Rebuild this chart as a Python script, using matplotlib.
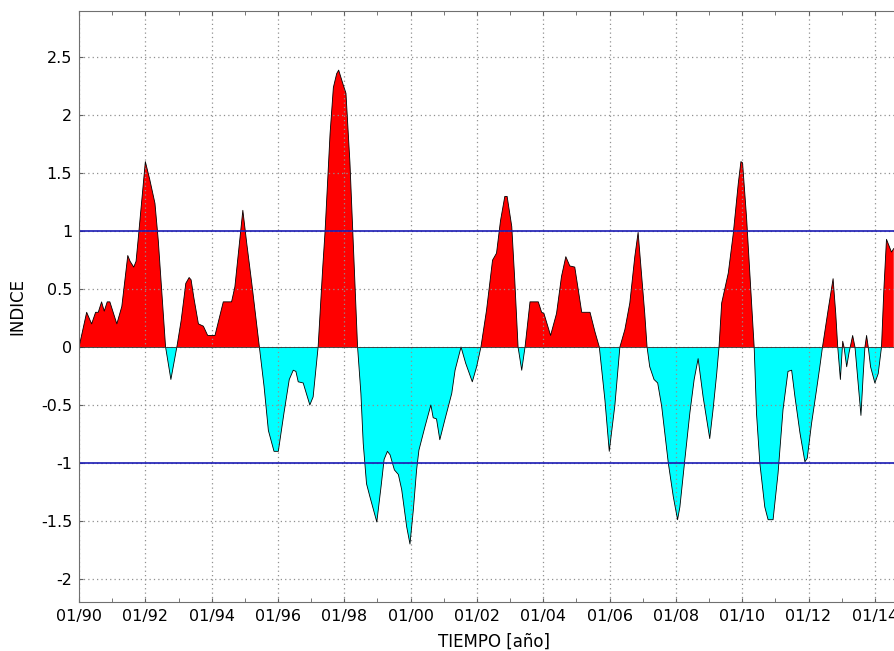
import matplotlib
matplotlib.use("Agg")
import matplotlib.pyplot as plt
import numpy as np

# Serie del indice (tiempo en anos decimales, valor)
tiempo = [
    1990.00, 1990.23, 1990.38, 1990.50, 1990.58, 1990.68, 1990.76, 1990.85, 1990.93,
    1991.14, 1991.29, 1991.47, 1991.54, 1991.65, 1991.72, 1991.79, 1992.00, 1992.13,
    1992.29, 1992.39, 1992.61, 1992.77, 1992.95, 1993.08, 1993.22, 1993.32, 1993.38,
    1993.46, 1993.60, 1993.75, 1993.88, 1994.10, 1994.35, 1994.60, 1994.70, 1994.94,
    1995.06, 1995.21, 1995.44, 1995.58, 1995.71, 1995.88, 1996.01, 1996.18, 1996.34,
    1996.46, 1996.54, 1996.61, 1996.76, 1996.96, 1997.06, 1997.15, 1997.21, 1997.35,
    1997.42, 1997.57, 1997.67, 1997.77, 1997.83, 1997.97, 1998.05, 1998.17, 1998.40,
    1998.50, 1998.57, 1998.62, 1998.67, 1998.77, 1998.98, 1999.11, 1999.20, 1999.30,
    1999.38, 1999.51, 1999.63, 1999.73, 1999.88, 1999.98, 2000.08, 2000.18, 2000.25,
    2000.43, 2000.61, 2000.68, 2000.78, 2000.88, 2001.03, 2001.24, 2001.34, 2001.52,
    2001.66, 2001.86, 2001.99, 2002.12, 2002.29, 2002.47, 2002.59, 2002.71, 2002.84,
    2002.91, 2003.05, 2003.14, 2003.24, 2003.35, 2003.45, 2003.60, 2003.85, 2003.95,
    2004.02, 2004.22, 2004.40, 2004.55, 2004.68, 2004.80, 2004.95, 2005.16, 2005.41,
    2005.56, 2005.69, 2005.86, 2005.99, 2006.16, 2006.31, 2006.46, 2006.61, 2006.76,
    2006.86, 2006.96, 2007.06, 2007.13, 2007.21, 2007.34, 2007.45, 2007.57, 2007.77,
    2007.92, 2008.05, 2008.12, 2008.27, 2008.42, 2008.55, 2008.67, 2008.82, 2009.02,
    2009.12, 2009.23, 2009.30, 2009.38, 2009.58, 2009.73, 2009.88, 2009.96, 2010.01,
    2010.13, 2010.23, 2010.36, 2010.43, 2010.53, 2010.68, 2010.78, 2010.93, 2011.08,
    2011.23, 2011.38, 2011.49, 2011.59, 2011.74, 2011.89, 2011.96, 2012.09, 2012.24,
    2012.34, 2012.42, 2012.59, 2012.74, 2012.82, 2012.88, 2012.96, 2013.03, 2013.07,
    2013.15, 2013.22, 2013.33, 2013.40, 2013.58, 2013.65, 2013.70, 2013.75, 2013.80,
    2013.87, 2014.00, 2014.10, 2014.20, 2014.27, 2014.35, 2014.50, 2014.57,
]
indice = [
    0.00, 0.30, 0.20, 0.30, 0.30, 0.39, 0.31, 0.39, 0.39,
    0.20, 0.35, 0.79, 0.74, 0.69, 0.74, 0.95, 1.60, 1.45,
    1.24, 0.92, 0.00, -0.28, 0.00, 0.23, 0.55, 0.60, 0.58,
    0.43, 0.20, 0.18, 0.10, 0.10, 0.39, 0.39, 0.52, 1.18,
    0.89, 0.55, 0.00, -0.34, -0.72, -0.90, -0.90, -0.57, -0.28,
    -0.20, -0.21, -0.30, -0.31, -0.50, -0.43, -0.17, 0.00, 0.69,
    1.00, 1.84, 2.24, 2.36, 2.39, 2.26, 2.19, 1.59, 0.00,
    -0.40, -0.83, -1.00, -1.18, -1.29, -1.51, -1.20, -0.97, -0.90,
    -0.93, -1.06, -1.10, -1.23, -1.55, -1.70, -1.41, -1.06, -0.89,
    -0.69, -0.50, -0.61, -0.62, -0.80, -0.63, -0.40, -0.20, 0.00,
    -0.14, -0.30, -0.17, 0.00, 0.32, 0.75, 0.81, 1.09, 1.30,
    1.30, 1.04, 0.58, 0.00, -0.20, 0.00, 0.39, 0.39, 0.30,
    0.29, 0.10, 0.29, 0.61, 0.78, 0.70, 0.69, 0.30, 0.30,
    0.13, 0.00, -0.46, -0.90, -0.50, 0.00, 0.15, 0.38, 0.78,
    0.99, 0.64, 0.29, 0.00, -0.17, -0.28, -0.31, -0.51, -1.00,
    -1.29, -1.49, -1.38, -0.97, -0.57, -0.28, -0.10, -0.43, -0.79,
    -0.54, -0.23, 0.00, 0.38, 0.64, 0.98, 1.41, 1.60, 1.59,
    1.12, 0.64, 0.00, -0.57, -1.00, -1.38, -1.49, -1.49, -1.09,
    -0.54, -0.21, -0.20, -0.43, -0.74, -0.99, -0.96, -0.66, -0.37,
    -0.17, 0.00, 0.32, 0.59, 0.29, 0.00, -0.28, 0.05, 0.00,
    -0.17, -0.05, 0.10, 0.00, -0.59, -0.23, 0.00, 0.10, 0.00,
    -0.17, -0.31, -0.23, 0.00, 0.49, 0.93, 0.82, 0.85,
]

umbrales = [1.0, -1.0]
anos_ticks = list(range(1990, 2015, 2))
etiquetas_x = ["01/%02d" % (a % 100) for a in anos_ticks]
y_ticks = [-2, -1.5, -1, -0.5, 0, 0.5, 1, 1.5, 2, 2.5]
etiquetas_y = ["-2", "-1.5", "-1", "-0.5", "0", "0.5", "1", "1.5", "2", "2.5"]

t = np.array(tiempo)
v = np.array(indice)

fig = plt.figure(figsize=(8.94, 6.51), dpi=100)
ax = fig.add_axes([0.0884, 0.0753, 0.9273, 0.9078])

ax.fill_between(t, v, 0, where=v >= 0, interpolate=True, color="#ff0000", lw=0)
ax.fill_between(t, v, 0, where=v <= 0, interpolate=True, color="#00ffff", lw=0)
ax.plot(t, v, color="black", lw=0.6)
ax.axhline(0, color="#303030", lw=0.6)
for u in umbrales:
    ax.axhline(u, color="#1a1ab4", lw=1.2)

ax.set_xlim(1990, 2015)
ax.set_ylim(-2.2, 2.9)
ax.set_xticks(anos_ticks)
ax.set_xticklabels(etiquetas_x)
ax.set_xticks(range(1991, 2015, 2), minor=True)
ax.set_yticks(y_ticks)
ax.set_yticklabels(etiquetas_y)

ax.grid(True, which="major", linestyle=(0, (1, 2.5)), color="#909090", lw=0.9)
ax.tick_params(which="both", direction="in", top=True, right=True,
               length=3, color="#606060", labelsize=11.5, pad=5)
for s in ax.spines.values():
    s.set_color("#707070")

ax.set_xlabel("TIEMPO [año]", fontsize=12)
ax.set_ylabel("INDICE", fontsize=12)
ax.xaxis.set_label_coords(0.5, -0.052)
ax.yaxis.set_label_coords(-0.063, 0.5)

fig.savefig("out.png", dpi=100)
